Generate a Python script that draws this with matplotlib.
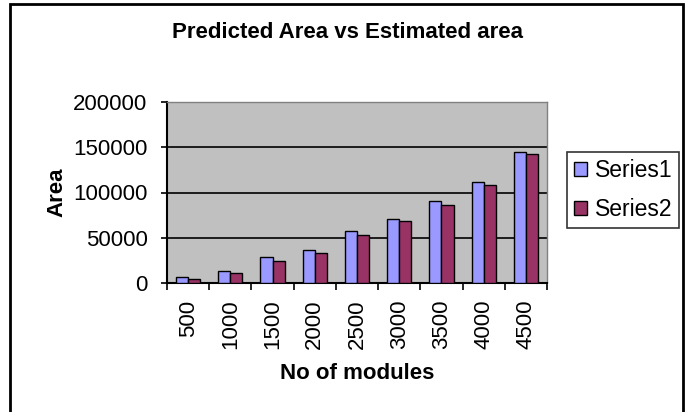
import numpy as np
import matplotlib
matplotlib.use("Agg")
import matplotlib.pyplot as plt
from matplotlib.patches import Rectangle

plt.rcParams['font.family'] = ['Liberation Sans', 'DejaVu Sans']

modules = ["500", "1000", "1500", "2000", "2500", "3000", "3500", "4000", "4500"]
series1 = [6300, 13300, 28500, 37000, 57000, 70200, 90200, 112000, 145300]
series2 = [4000, 11100, 24000, 33300, 52500, 68000, 85800, 108000, 143000]

fig = plt.figure(figsize=(6.86, 4.12), dpi=100)
ax = fig.add_axes([167 / 686, 1 - 283 / 412, 380 / 686, 181 / 412])

# outer chart border (bottom edge runs off the figure)
fig.patches.append(Rectangle((10 / 686, -0.05), 673 / 686, (1 - 4 / 412) + 0.05,
                             transform=fig.transFigure, fill=False,
                             edgecolor="black", linewidth=2))

x = np.arange(len(modules))
w = 1 / 3.5
ax.bar(x - w / 2, series1, w, color="#9999FF", edgecolor="black", linewidth=1,
       label="Series1", zorder=3)
ax.bar(x + w / 2, series2, w, color="#993366", edgecolor="black", linewidth=1,
       label="Series2", zorder=3)

ax.set_facecolor("#C0C0C0")
ax.set_xlim(-0.5, len(modules) - 0.5)
ax.set_ylim(0, 200000)
ax.set_yticks(range(0, 200001, 50000))
ax.yaxis.grid(True, color="black", linewidth=1.2, zorder=1)
ax.set_axisbelow(True)

ax.set_xticks(x)
ax.set_xticklabels(modules, rotation=90, fontsize=16)
ax.set_xticks(np.arange(-0.5, len(modules)), minor=True)
ax.tick_params(axis="x", which="major", length=0, pad=12)
ax.tick_params(axis="x", which="minor", length=5, width=1.2, color="black")
ax.tick_params(axis="y", length=4, width=1.2, labelsize=16, pad=10)

for side in ["top", "right"]:
    ax.spines[side].set_color("#808080")
    ax.spines[side].set_linewidth(1)
for side in ["left", "bottom"]:
    ax.spines[side].set_color("black")
    ax.spines[side].set_linewidth(1.5)

ax.set_xlabel("No of modules", fontsize=16, fontweight="bold", labelpad=10)
ax.set_ylabel("Area", fontsize=16, fontweight="bold", labelpad=4)
fig.text(348 / 686, 1 - 33 / 412, "Predicted Area vs Estimated area",
         ha="center", va="center", fontsize=16, fontweight="bold")

leg = fig.legend(loc="upper left", bbox_to_anchor=(567 / 686, 1 - 152 / 412),
                 fontsize=16.5, frameon=True, fancybox=False, edgecolor="black",
                 handlelength=0.56, handleheight=0.56, handletextpad=0.35,
                 borderpad=0.3, borderaxespad=0, labelspacing=0.7)
leg.get_frame().set_linewidth(1.2)

fig.savefig("out.png", dpi=100)
